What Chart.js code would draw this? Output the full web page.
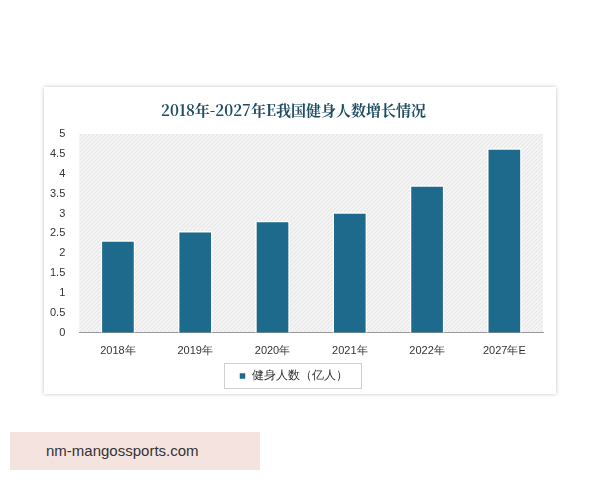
<!DOCTYPE html>
<html><head><meta charset="utf-8">
<script src="https://cdn.jsdelivr.net/npm/chart.js@4"></script>
<style>
body{margin:0;background:#fff;width:600px;height:480px;position:relative;font-family:"Noto Sans CJK SC",sans-serif}
.card{position:absolute;left:44px;top:87px;width:512px;height:307px;background:#fff;box-shadow:0 0 4px rgba(0,0,0,.25)}
.tag{position:absolute;left:10px;top:432px;width:250px;height:38px;background:#f5e3e0;color:#333;font:15px "Liberation Sans",sans-serif;line-height:38px;padding-left:36px;box-sizing:border-box}
</style></head><body>
<div class="card"><canvas id="c" width="512" height="307"></canvas></div>
<div class="tag">nm-mangossports.com</div>
<script>
const categories = ["2018年","2019年","2020年","2021年","2022年","2027年E"];
const people = [2.33, 2.56, 2.82, 3.03, 3.71, 4.64];
const yTicks = [0,0.5,1,1.5,2,2.5,3,3.5,4,4.5,5];

const hatch = {
  id: 'hatch',
  beforeDraw(chart) {
    const {ctx, chartArea: a} = chart;
    ctx.save();
    ctx.fillStyle = '#f4f4f4';
    ctx.fillRect(a.left, a.top, a.right - a.left, a.bottom - a.top);
    ctx.beginPath();
    ctx.rect(a.left, a.top, a.right - a.left, a.bottom - a.top);
    ctx.clip();
    ctx.strokeStyle = '#dedede';
    ctx.lineWidth = 0.7;
    for (let x = a.left - 300; x < a.right; x += 4) {
      ctx.beginPath();
      ctx.moveTo(x, a.bottom);
      ctx.lineTo(x + (a.bottom - a.top), a.top);
      ctx.stroke();
    }
    ctx.restore();
  },
  afterDraw(chart) {
    const l = chart.legend, ctx = chart.ctx;
    const it = l.legendHitBoxes[0];
    if (!it) return;
    ctx.save();
    ctx.strokeStyle = '#d0d0d0';
    ctx.lineWidth = 1;
    ctx.strokeRect(it.left - 14.5, it.top - 6.5, it.width + 28, it.height + 13);
    ctx.restore();
  }
};

new Chart(document.getElementById('c'), {
  type: 'bar',
  data: {
    labels: categories,
    datasets: [{
      label: '健身人数（亿人）',
      data: people,
      backgroundColor: '#1d6a8c',
      borderColor: '#ffffff',
      borderWidth: 1.5,
      barPercentage: 0.8,
      categoryPercentage: 0.56
    }]
  },
  options: {
    responsive: false,
    animation: false,
    layout: {padding: {left: 0, right: 13, top: 6, bottom: 2}},
    plugins: {
      title: {
        display: true,
        text: '2018年-2027年E我国健身人数增长情况',
        color: '#1f4e63',
        font: {size: 15, weight: 'bold', family: '"Noto Serif CJK SC","Noto Sans CJK SC",serif'},
        padding: {top: 8, bottom: 15}
      },
      legend: {
        position: 'bottom',
        labels: {boxWidth: 7, boxHeight: 7, color: '#333', font: {size: 12}, padding: 8}
      }
    },
    scales: {
      x: {
        grid: {display: false},
        border: {color: '#999'},
        ticks: {color: '#333', font: {size: 11}, padding: 4}
      },
      y: {
        min: 0, max: 5,
        afterBuildTicks: s => { s.ticks = yTicks.map(v => ({value: v})); },
        grid: {display: false},
        border: {display: false},
        ticks: {color: '#333', font: {size: 11}, padding: 6, callback: v => String(v)}
      }
    }
  },
  plugins: [hatch]
});
</script>
</body></html>
